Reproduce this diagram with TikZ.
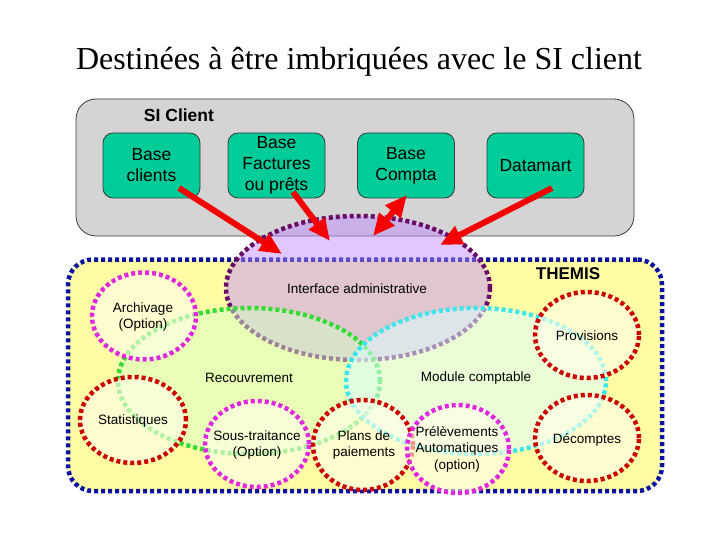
\documentclass[tikz,border=0pt]{standalone}
\usepackage{fontspec}
\setmainfont{Liberation Sans}
\newfontfamily\titlefont{Liberation Serif}
\usetikzlibrary{shapes.geometric,arrows.meta}
\definecolor{siGray}{RGB}{212,212,212}
\definecolor{siEdge}{RGB}{60,60,60}
\definecolor{boxGreen}{RGB}{0,204,153}
\definecolor{themYellow}{RGB}{255,252,165}
\definecolor{themBlue}{RGB}{10,20,160}
\definecolor{ifFill}{RGB}{190,138,255}
\definecolor{ifEdge}{RGB}{105,10,105}
\definecolor{recGreen}{RGB}{50,220,50}
\definecolor{recFill}{RGB}{210,255,200}
\definecolor{modCyan}{RGB}{60,230,235}
\definecolor{modFill}{RGB}{220,255,255}
\definecolor{cMag}{RGB}{225,40,225}
\definecolor{cRed}{RGB}{205,0,0}
\definecolor{cFill}{RGB}{255,255,235}
\definecolor{arrRed}{RGB}{245,0,0}
\tikzset{
  dotline/.style={line width=4.5pt, dash pattern=on 4pt off 3pt},
  sibox/.style={draw=siEdge, line width=0.8pt, fill=boxGreen, rounded corners=10pt,
     minimum width=97pt, minimum height=65pt, inner sep=0pt, align=center,
     font=\fontsize{17.5}{21}\selectfont},
  ovalnode/.style={ellipse, inner sep=0pt, dotline},
  smallc/.style={ovalnode, fill=cFill, fill opacity=0.6},
  lbl/.style={align=center, inner sep=0pt, font=\fontsize{13.5}{16.5}\selectfont},
  bigarrow/.style={draw=arrRed, line width=6pt, -{Triangle[length=22pt,width=19pt]}},
}
\begin{document}
\begin{tikzpicture}[x=1pt,y=-1pt]
\useasboundingbox[fill=white] (0,0) rectangle (720,540);
% title
\node[font=\titlefont\fontsize{32}{36}\selectfont, inner sep=0pt] (title) at (359,62) {Destinées à être imbriquées avec le SI client};
% SI client
\node[draw=siEdge, line width=0.8pt, fill=siGray, rounded corners=20pt,
      minimum width=558pt, minimum height=137pt, inner sep=0pt] (si) at (355,167.5) {};
\node[font=\bfseries\fontsize{17.5}{21}\selectfont, inner sep=0pt] (silbl) at (179,115) {SI Client};
\node[sibox] (bc) at (151.5,165.5) {Base\\clients};
\node[sibox] (bf) at (276.5,165.5) {Base\\Factures\\ou prêts};
\node[sibox] (bco) at (406,165.5) {Base\\Compta};
\node[sibox] (dm) at (535.5,165.5) {Datamart};
% THEMIS
\node[draw=themBlue, dotline, fill=themYellow, rounded corners=25pt,
      minimum width=594pt, minimum height=231.5pt, inner sep=0pt] (them) at (365,375.25) {};
\node[font=\bfseries\fontsize{17}{20}\selectfont, inner sep=0pt] (themlbl) at (568,274) {THEMIS};
% interface
\node[ovalnode, draw=ifEdge, fill=ifFill, fill opacity=0.47, draw opacity=1,
      minimum width=264pt, minimum height=144pt] (iface) at (358,288) {};
% recouvrement / module comptable
\node[ovalnode, draw=recGreen, fill=recFill, fill opacity=0.5,
      minimum width=262pt, minimum height=146pt] (rec) at (249,381) {};
\node[ovalnode, draw=modCyan, fill=modFill, fill opacity=0.55,
      minimum width=260pt, minimum height=146pt] (mod) at (476,381) {};
% small circles
\node[smallc, draw=cMag, minimum width=104pt, minimum height=87pt] (arc) at (144,316) {};
\node[smallc, draw=cRed, minimum width=106pt, minimum height=86pt] (sta) at (133,420) {};
\node[smallc, draw=cMag, minimum width=104pt, minimum height=86pt] (sst) at (257,444) {};
\node[smallc, draw=cRed, minimum width=100pt, minimum height=90pt] (pla) at (363,445) {};
\node[smallc, draw=cMag, minimum width=102pt, minimum height=88pt] (pre) at (458,449) {};
\node[smallc, draw=cRed, minimum width=104pt, minimum height=86pt] (pro) at (587,335) {};
\node[smallc, draw=cRed, minimum width=104pt, minimum height=86pt] (dec) at (587,438) {};
% labels
\node[lbl] (ifacelbl) at (357,289) {Interface administrative};
\node[lbl] (reclbl) at (249,378) {Recouvrement};
\node[lbl] (modlbl) at (476,378) {Module comptable};
\node[lbl] (arclbl) at (143,317) {Archivage\\(Option)};
\node[lbl] (stalbl) at (133,421) {Statistiques};
\node[lbl] (sstlbl) at (257,445) {Sous-traitance\\(Option)};
\node[lbl] (plalbl) at (364,445) {Plans de\\paiements};
\node[lbl] (prelbl) at (457,449) {Prélèvements\\Automatiques\\(option)};
\node[lbl] (prolbl) at (587,336) {Provisions};
\node[lbl] (declbl) at (587,440) {Décomptes};
% arrows
\coordinate (a1s) at (179,188);
\coordinate (a1e) at (282,254);
\coordinate (a2s) at (293,192);
\coordinate (a2e) at (330,241);
\coordinate (a3s) at (373,236);
\coordinate (a3e) at (407,195);
\coordinate (a4s) at (552,188);
\coordinate (a4e) at (440,245);
\draw[bigarrow] (a1s) -- (a1e);
\draw[bigarrow] (a2s) -- (a2e);
\draw[bigarrow, {Triangle[length=22pt,width=19pt]}-{Triangle[length=22pt,width=19pt]}] (a3s) -- (a3e);
\draw[bigarrow] (a4s) -- (a4e);
\end{tikzpicture}
\end{document}
